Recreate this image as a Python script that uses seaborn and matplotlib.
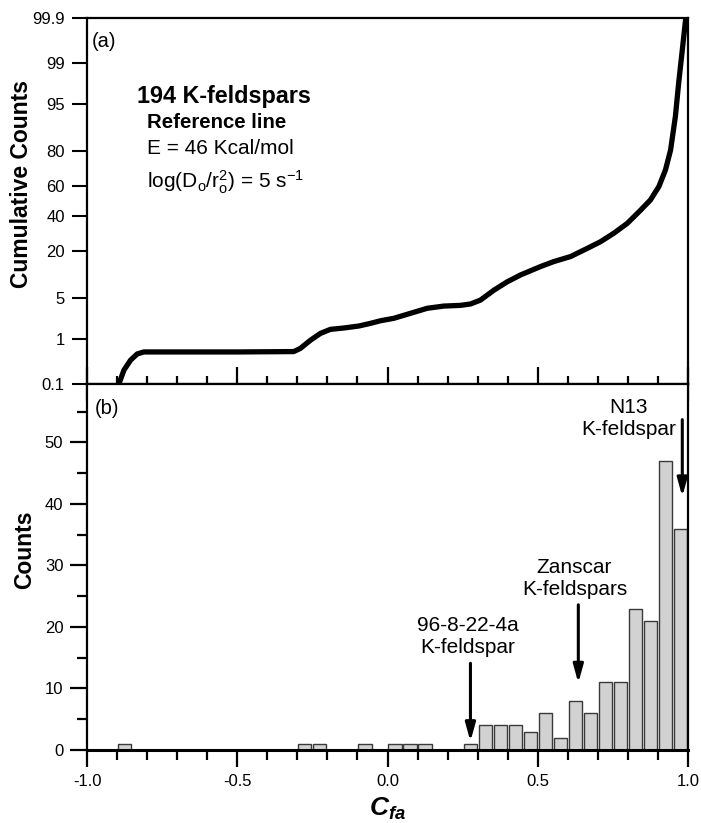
import math
from statistics import NormalDist
import numpy as np
import pandas as pd
import matplotlib
matplotlib.use("Agg")
import matplotlib.pyplot as plt
from matplotlib.ticker import FixedLocator, MultipleLocator, NullFormatter
import seaborn as sns

# ---------------- data ----------------
# (a) cumulative curve: C_fa vs cumulative percent
curve_x = [-0.894, -0.877, -0.855, -0.833, -0.811, -0.70, -0.50, -0.312, -0.29,
           -0.256, -0.223, -0.19, -0.145, -0.095, -0.057, -0.023, 0.021, 0.077,
           0.132, 0.187, 0.243, 0.276, 0.309, 0.354, 0.398, 0.443, 0.509, 0.553,
           0.609, 0.665, 0.709, 0.753, 0.798, 0.843, 0.875, 0.903, 0.925, 0.942,
           0.958, 0.969, 0.981, 0.992, 0.996]
curve_pct = [0.1, 0.215, 0.36, 0.49, 0.54, 0.54, 0.54, 0.55, 0.64,
             0.94, 1.27, 1.51, 1.6, 1.74, 1.94, 2.16, 2.38, 2.9,
             3.5, 3.8, 3.9, 4.1, 4.7, 6.6, 8.6, 10.6, 13.4, 15.3,
             17.4, 21.2, 24.6, 29.3, 35.3, 44.0, 50.7, 59.6, 70.0, 80.5,
             92.3, 97.7, 99.46, 99.89, 99.9]

# (b) histogram: bin centres and counts
bin_centers = [-0.875, -0.275, -0.225, -0.075, 0.025, 0.075, 0.125, 0.275,
               0.325, 0.375, 0.425, 0.475, 0.525, 0.575, 0.625, 0.675,
               0.725, 0.775, 0.825, 0.875, 0.925, 0.975]
bin_counts = [1, 1, 1, 1, 1, 1, 1, 1,
              4, 4, 4, 3, 6, 2, 8, 6,
              11, 11, 23, 21, 47, 36]

prob_ticks = [0.1, 1, 5, 20, 40, 60, 80, 95, 99, 99.9]
prob_labels = ["0.1", "1", "5", "20", "40", "60", "80", "95", "99", "99.9"]
x_ticks = [-1.0, -0.5, 0.0, 0.5, 1.0]
x_labels = ["-1.0", "-0.5", "0.0", "0.5", "1.0"]
count_ticks = [0, 10, 20, 30, 40, 50]

# label, arrow x, arrow start, arrow end, text x, text centre y
annotations = [
    ("96-8-22-4a\nK-feldspar", 0.276, 14.1, 1.4, 0.267, 18.5),
    ("Zanscar\nK-feldspars", 0.635, 23.6, 10.9, 0.622, 27.9),
    ("N13\nK-feldspar", 0.981, 53.7, 41.2, 0.802, 53.9),
]

# ---------------- style ----------------
sns.set_theme(style="ticks")
plt.rcParams["font.family"] = ["Liberation Sans", "DejaVu Sans"]
plt.rcParams["mathtext.fontset"] = "custom"
plt.rcParams["mathtext.rm"] = "Liberation Sans"
plt.rcParams["mathtext.it"] = "Liberation Sans:italic"
plt.rcParams["mathtext.bf"] = "Liberation Sans:bold"
plt.rcParams["mathtext.bfit"] = "Liberation Sans:italic:bold"
plt.rcParams["axes.linewidth"] = 1.6
for key in ["text.color", "axes.labelcolor", "xtick.color", "ytick.color",
            "axes.edgecolor"]:
    plt.rcParams[key] = "black"

_nd = NormalDist()
_vinv_cdf = np.vectorize(_nd.inv_cdf, otypes=[float])
_vcdf = np.vectorize(lambda v: 50.0 * (1.0 + math.erf(v / math.sqrt(2.0))), otypes=[float])


def _fwd(p):
    p = np.asarray(p, dtype=float)
    if p.size == 0:
        return p
    q = np.clip(p / 100.0, 1e-9, 1 - 1e-9)
    return _vinv_cdf(q)


def _inv(z):
    z = np.asarray(z, dtype=float)
    if z.size == 0:
        return z
    return _vcdf(z)


fig = plt.figure(figsize=(7.01, 8.23), dpi=100)
L, R = 87 / 701, 688 / 701
ax1 = fig.add_axes([L, 1 - 384 / 823, R - L, 366 / 823])
ax2 = fig.add_axes([L, 1 - 750 / 823, R - L, 366 / 823])

# ---------------- (a) ----------------
ax1.set_yscale("function", functions=(_fwd, _inv))
df_curve = pd.DataFrame({"x": curve_x, "pct": curve_pct})
sns.lineplot(data=df_curve, x="x", y="pct", ax=ax1, color="black", lw=3.8,
             sort=False, estimator=None, solid_joinstyle="round",
             solid_capstyle="round")
ax1.set_xlim(-1.0, 1.0)
ax1.set_ylim(0.1, 99.9)
ax1.yaxis.set_major_locator(FixedLocator(prob_ticks))
ax1.set_yticklabels(prob_labels)
ax1.yaxis.set_minor_locator(FixedLocator([]))
ax1.xaxis.set_major_locator(MultipleLocator(0.5))
ax1.xaxis.set_minor_locator(MultipleLocator(0.1))
ax1.xaxis.set_major_formatter(NullFormatter())
ax1.tick_params(axis="x", which="major", direction="inout", length=24, width=1.6)
ax1.tick_params(axis="x", which="minor", direction="inout", length=11, width=1.6)
ax1.tick_params(axis="y", which="major", direction="out", length=11, width=1.5,
                labelsize=12, pad=5)
ax1.set_xlabel("")
ax1.set_ylabel("Cumulative Counts", fontsize=16.5, fontweight="bold")
ax1.yaxis.set_label_coords(-0.09, 0.546)
for s in ax1.spines.values():
    s.set_visible(True)
    s.set_color("black")

ax1.text(0.008, 0.935, "(a)", transform=ax1.transAxes, fontsize=14.5, va="center")
fig.text(137 / 701, 1 - 96 / 823, "194 K-feldspars", fontsize=16.8,
         fontweight="bold", va="center")
fig.text(147 / 701, 1 - 122 / 823, "Reference line", fontsize=14.7,
         fontweight="bold", va="center")
fig.text(147 / 701, 1 - 149 / 823, "E = 46 Kcal/mol", fontsize=15, va="center")
fig.text(147 / 701, 1 - 182 / 823,
         r"log(D$_\mathregular{o}$/r$_\mathregular{o}^\mathregular{2}$) = 5 s$^\mathregular{-1}$",
         fontsize=15, va="center")

# ---------------- (b) ----------------
df_hist = pd.DataFrame({"c": bin_centers, "n": bin_counts})
sns.barplot(data=df_hist, x="c", y="n", ax=ax2, native_scale=True, width=0.88,
            color="#d2d2d2", edgecolor="#3a3a3a", linewidth=1.0, saturation=1)
ax2.set_xlim(-1.0, 1.0)
ax2.set_ylim(0, 59.5)
ax2.xaxis.set_major_locator(FixedLocator(x_ticks))
ax2.set_xticklabels(x_labels)
ax2.xaxis.set_minor_locator(MultipleLocator(0.1))
ax2.yaxis.set_major_locator(FixedLocator(count_ticks))
ax2.yaxis.set_minor_locator(MultipleLocator(5))
ax2.tick_params(axis="both", which="major", direction="out", length=12, width=1.6,
                labelsize=12, pad=5)
ax2.tick_params(axis="both", which="minor", direction="out", length=7, width=1.6)
ax2.set_ylabel("Counts", fontsize=16.5, fontweight="bold")
ax2.yaxis.set_label_coords(-0.084, 0.546)
ax2.set_xlabel(r"$\mathbfit{C}_{\mathbfit{fa}}$", fontsize=19, labelpad=5)
for s in ax2.spines.values():
    s.set_visible(True)
    s.set_color("black")
ax2.spines["bottom"].set_linewidth(2.2)

ax2.text(0.013, 0.934, "(b)", transform=ax2.transAxes, fontsize=14.5, va="center")

for label, ax_x, y0, y1, tx, ty in annotations:
    ax2.annotate("", xy=(ax_x, y1), xytext=(ax_x, y0),
                 arrowprops=dict(arrowstyle="-|>,head_length=0.9,head_width=0.25",
                                 color="black", lw=2.2, shrinkA=0, shrinkB=0))
    ax2.text(tx, ty, label, fontsize=15, ha="center", va="center",
             linespacing=1.2)

fig.savefig("out.png", dpi=100)
